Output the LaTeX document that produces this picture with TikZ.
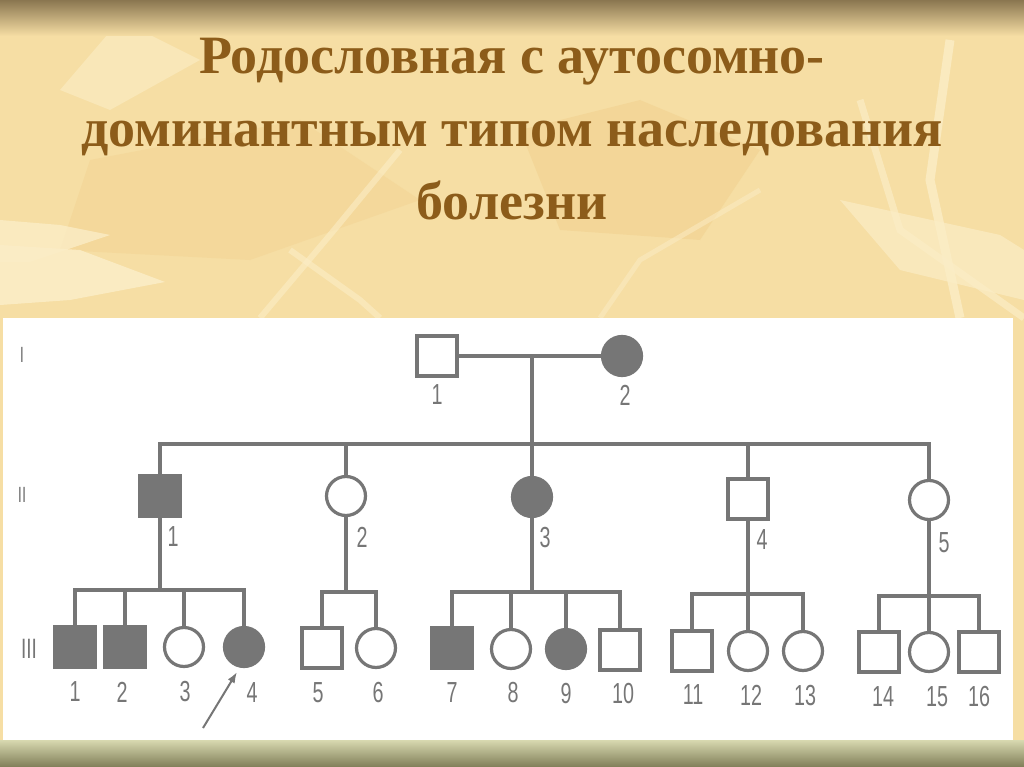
\documentclass[tikz,border=0pt]{standalone}
\usepackage{fontspec}
\setmainfont{Liberation Serif}
\newfontfamily\pedfont[FakeStretch=0.68]{Liberation Sans}
\usetikzlibrary{arrows.meta}

\begin{document}
\begin{tikzpicture}[x=1pt,y=-1pt,
    healthyM/.style={draw=pedgray,line width=3.2pt,fill=white,rectangle,minimum size=40pt,inner sep=0pt},
    healthyF/.style={healthyM,circle,minimum size=39pt},
    sickM/.style={healthyM,fill=pedgray},
    sickF/.style={healthyF,fill=pedgray},
    link/.style={draw=pedgray,line width=3.2pt},
    numlab/.style={font=\pedfont\fontsize{29}{29}\selectfont,text=pedgray,inner sep=0pt},
    genlab/.style={font=\pedfont\fontsize{22}{22}\selectfont,text=pedgray,inner sep=0pt},
    titletext/.style={font=\bfseries\fontsize{54}{54}\selectfont,anchor=base,inner sep=0pt,text=titlebrown}]
    \definecolor{pedgray}{HTML}{767676}
    \definecolor{sand}{HTML}{F6DEA4}
    \definecolor{leaflight}{HTML}{FBEDC6}
    \definecolor{leafdark}{HTML}{F1D08E}
    \definecolor{topband}{HTML}{8A7650}
    \definecolor{titlebrown}{HTML}{8C5C1A}
    \useasboundingbox (0,0) rectangle (1024,767);

    % background
    \fill[sand] (0,0) rectangle (1024,767);
    \fill[leafdark,opacity=0.5] (520,130) -- (640,100) -- (760,150) -- (700,240) -- (560,230) -- cycle;
    \fill[leafdark,opacity=0.4] (90,160) -- (300,120) -- (420,200) -- (250,260) -- (60,250) -- cycle;
    \fill[leaflight,opacity=0.9] (0,245) -- (80,250) -- (165,282) -- (70,300) -- (0,305) -- cycle;
    \fill[leaflight,opacity=0.8] (0,220) -- (60,225) -- (110,235) -- (30,262) -- (0,262) -- cycle;
    \fill[leaflight,opacity=0.7] (840,200) -- (1000,235) -- (1024,250) -- (1024,300) -- (900,270) -- cycle;
    \fill[leaflight,opacity=0.6] (120,20) -- (200,60) -- (110,110) -- (60,90) -- cycle;
    \draw[leaflight,line width=9pt,opacity=0.8] (950,40) -- (930,180) -- (960,318);
    \draw[leaflight,line width=7pt,opacity=0.7] (860,100) -- (900,230) -- (1024,318);
    \draw[leaflight,line width=6pt,opacity=0.6] (260,318) -- (330,235) -- (400,150);
    \draw[leaflight,line width=6pt,opacity=0.6] (290,250) -- (360,300) -- (380,318);
    \draw[leaflight,line width=5pt,opacity=0.5] (760,190) -- (640,260) -- (600,318);
    \shade[top color=topband,bottom color=sand] (0,0) rectangle (1024,36);

    % panel
    \fill[white] (3,318) rectangle (1013,740);
    \shade[top color={rgb,255:red,216;green,217;blue,176},bottom color={rgb,255:red,128;green,126;blue,88}] (0,740) rectangle (1024,767);

    % title
    \foreach \t/\yy [count=\i] in {Родословная с аутосомно-/74, доминантным типом наследования/147, болезни/220} {
      \node[titletext] (title\i) at (512,\yy) {\t};
    }

    % generation labels
    \node[genlab] (genI) at (22,355) {I};
    \node[genlab] (genII) at (22,495) {II};
    \node[genlab,font=\pedfont\fontsize{28}{28}\selectfont] (genIII) at (29,649) {III};

    % generation I
    \node[healthyM] (I-1) at (437,356) {};
    \node[sickF] (I-2) at (622,356) {};
    \node[numlab] (n1-1) at (437,395) {1};
    \node[numlab] (n1-2) at (625,395) {2};
    \draw[link] (I-1) -- (I-2);

    % generation II
    \foreach \n/\x/\y/\kind/\lx/\ly in {
      1/160/496/sickM/173/537,
      2/346/496/healthyF/362/537,
      3/532/497/sickF/545/538,
      4/748/499/healthyM/762/540,
      5/929/500/healthyF/944/543} {
      \node[\kind] (II-\n) at (\x,\y) {};
      \node[numlab] (n2-\n) at (\lx,\ly) {\n};
    }
    \coordinate (sib) at (0,444);
    \draw[link] (II-3 |- I-2) -- (II-3);
    \draw[link] (II-1) |- (sib -| II-5) -- (II-5);
    \draw[link] (II-2) -- (II-2 |- sib);
    \draw[link] (II-4) -- (II-4 |- sib);

    % generation III
    \foreach \n/\x/\y/\kind/\lx/\ly in {
      1/75/647/sickM/75/692,
      2/125/647/sickM/122/692,
      3/184/647/healthyF/185/692,
      4/244/647/sickF/252/693,
      5/322/648/healthyM/318/693,
      6/376/648/healthyF/378/693,
      7/452/648/sickM/452/693,
      8/511/649/healthyF/513/693,
      9/566/649/sickF/566/694,
      10/620/650/healthyM/623/694,
      11/692/651/healthyM/693/695,
      12/748/651/healthyF/751/695,
      13/803/651/healthyF/805/696,
      14/879/652/healthyM/883/697,
      15/929/652/healthyF/937/697,
      16/979/652/healthyM/979/697} {
      \node[\kind] (III-\n) at (\x,\y) {};
      \node[numlab] (n3-\n) at (\lx,\ly) {\n};
    }
    \coordinate (f1) at (0,590);
    \coordinate (f2) at (0,592);
    \coordinate (f3) at (0,592);
    \coordinate (f4) at (0,594);
    \coordinate (f5) at (0,596);
    \draw[link] (II-1) -- (II-1 |- f1);
    \draw[link] (III-1) |- (f1 -| III-4) -- (III-4);
    \draw[link] (III-2) -- (III-2 |- f1);
    \draw[link] (III-3) -- (III-3 |- f1);
    \draw[link] (II-2) -- (II-2 |- f2);
    \draw[link] (III-5) |- (f2 -| III-6) -- (III-6);
    \draw[link] (II-3) -- (II-3 |- f3);
    \draw[link] (III-7) |- (f3 -| III-10) -- (III-10);
    \draw[link] (III-8) -- (III-8 |- f3);
    \draw[link] (III-9) -- (III-9 |- f3);
    \draw[link] (II-4) -- (III-12);
    \draw[link] (III-11) |- (f4 -| III-13) -- (III-13);
    \draw[link] (II-5) -- (III-15);
    \draw[link] (III-14) |- (f5 -| III-16) -- (III-16);

    % proband
    \coordinate (arwtail) at (203,728);
    \coordinate (arwtip) at (237,672);
    \draw[link,line width=2pt,-{Latex[length=11pt,width=8pt]}] (arwtail) -- (arwtip);
  \end{tikzpicture}
\end{document}
